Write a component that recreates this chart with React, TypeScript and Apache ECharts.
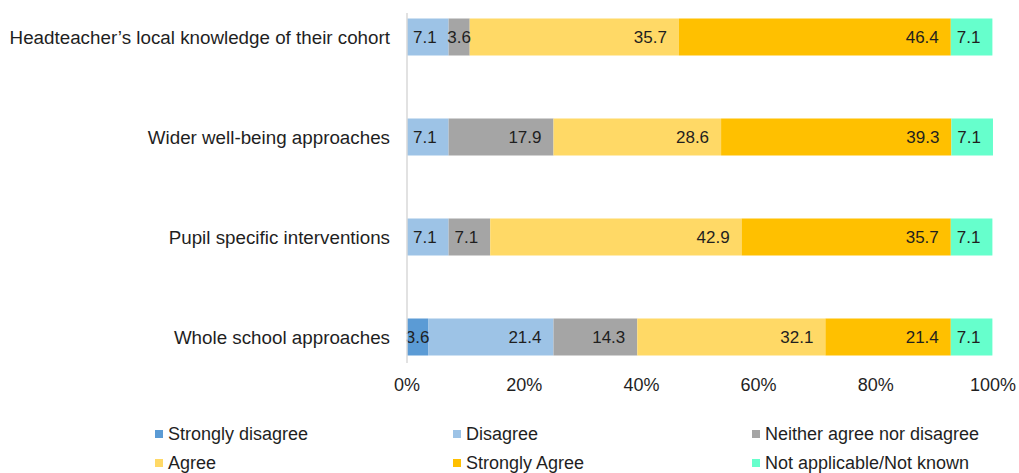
import React, { useEffect, useRef } from "react";
import * as echarts from "echarts";

const categories = [
  "Headteacher\u2019s local knowledge of their cohort",
  "Wider well-being approaches",
  "Pupil specific interventions",
  "Whole school approaches",
];
const seriesNames = [
  "Strongly disagree",
  "Disagree",
  "Neither agree nor disagree",
  "Agree",
  "Strongly Agree",
  "Not applicable/Not known",
];
const stronglyDisagree = [0, 0, 0, 3.6];
const disagree = [7.1, 7.1, 7.1, 21.4];
const neither = [3.6, 17.9, 7.1, 14.3];
const agree = [35.7, 28.6, 42.9, 32.1];
const stronglyAgree = [46.4, 39.3, 35.7, 21.4];
const notApplicable = [7.1, 7.1, 7.1, 7.1];
const xTicks = [0, 20, 40, 60, 80, 100];

const colors = ["#5B9BD5", "#9DC3E6", "#A5A5A5", "#FFD966", "#FFC000", "#66FFCC"];
const FONT = "'Liberation Sans', Arial, sans-serif";
const TEXT = "#1f1f1f";
const SHIFT = 13; // chart canvas starts above the visible page so the plot can extend past the top

export default function App() {
  const ref = useRef<HTMLDivElement>(null);
  useEffect(() => {
    document.body.style.margin = "0";
    if (!ref.current) return;
    const chart = echarts.init(ref.current, undefined, { renderer: "svg" });
    const allData = [stronglyDisagree, disagree, neither, agree, stronglyAgree, notApplicable];
    const series = allData.map((arr, i) => ({
      name: seriesNames[i],
      type: "bar",
      stack: "total",
      barWidth: 37,
      itemStyle: { color: colors[i] },
      data: arr.map((v) => ({
        value: v,
        label: { position: v < 5 ? "inside" : "insideRight" },
      })),
      label: {
        show: true,
        position: "insideRight",
        distance: 12,
        fontSize: 17,
        fontFamily: FONT,
        color: TEXT,
        formatter: (p: any) => (p.value ? Number(p.value).toFixed(1) : ""),
      },
    }));
    const legendPos = [
      { left: 155, row: 0 },
      { left: 453, row: 0 },
      { left: 752, row: 0 },
      { left: 155, row: 1 },
      { left: 453, row: 1 },
      { left: 752, row: 1 },
    ];
    const legendOrder = [0, 1, 2, 3, 4, 5];
    chart.setOption({
      animation: false,
      grid: { left: 407, width: 588, top: 0, height: 400, containLabel: false },
      xAxis: {
        type: "value",
        min: xTicks[0],
        max: xTicks[xTicks.length - 1],
        interval: 20,
        offset: -19,
        axisLine: { show: false },
        axisTick: { show: false },
        splitLine: { show: false },
        axisLabel: {
          formatter: "{value}%",
          fontSize: 18,
          fontFamily: FONT,
          color: TEXT,
          margin: 8,
        },
      },
      yAxis: {
        type: "category",
        data: categories,
        inverse: true,
        axisLine: { show: false },
        axisTick: { show: false },
        axisLabel: { fontSize: 18.8, fontFamily: FONT, color: TEXT, margin: 17 },
      },
      legend: legendOrder.map((si, k) => ({
        data: [seriesNames[si]],
        left: legendPos[k].left,
        top: SHIFT + (legendPos[k].row === 0 ? 435 : 464) - 10,
        padding: 0,
        itemWidth: 8,
        itemHeight: 8,
        icon: "rect",
        selectedMode: false,
        textStyle: { fontSize: 18, fontFamily: FONT, color: TEXT },
      })),
      series,
    });
    const x0 = chart.convertToPixel({ xAxisIndex: 0 }, 0) as number;
    const yTop = chart.convertToPixel({ yAxisIndex: 0 }, categories[0]) as number;
    const yBot = chart.convertToPixel({ yAxisIndex: 0 }, categories[categories.length - 1]) as number;
    chart.setOption({
      graphic: [
        {
          type: "line",
          shape: { x1: x0, y1: yTop - 24, x2: x0, y2: yBot + 26 },
          style: { stroke: "#D9D9D9", lineWidth: 1.5 },
          z: 10,
        },
      ],
    });
    return () => chart.dispose();
  }, []);
  return (
    <div style={{ width: 1019, height: 473, overflow: "hidden", position: "relative" }}>
      <div
        ref={ref}
        style={{ position: "absolute", left: 0, top: -SHIFT, width: 1019, height: 473 + SHIFT }}
      />
    </div>
  );
}
